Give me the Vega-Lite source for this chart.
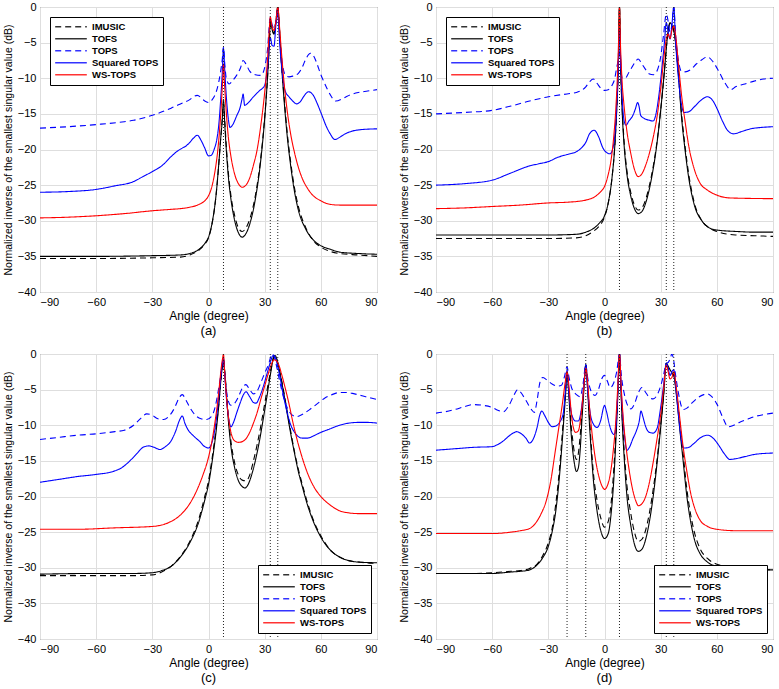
{
"$schema": "https://vega.github.io/schema/vega-lite/v6.json",
"padding": {"left": 2, "top": 0, "right": 2, "bottom": 0},
"config": {
 "font": "Liberation Sans",
 "view": {"stroke": "#555", "strokeWidth": 1},
 "axis": {"labelFont": "Liberation Sans", "labelFontSize": 11, "labelColor": "#000", "titleFont": "Liberation Sans", "titleFontSize": 12, "titleFontWeight": "normal", "titleColor": "#000", "gridColor": "#dedede", "gridOpacity": 1, "domain": false, "ticks": false, "labelPadding": 4},
 "axisY": {"titleFontSize": 10.5, "titlePadding": 4},
 "axisX": {"titlePadding": 3},
 "title": {"font": "Liberation Sans", "fontSize": 13, "fontWeight": "normal", "color": "#000"},
 "legend": {"symbolType": "stroke", "symbolSize": 1000, "symbolStrokeWidth": 1.5, "labelFontSize": 9.5, "labelFontWeight": "bold", "labelFont": "Liberation Sans", "strokeColor": "#000", "fillColor": "#fff", "padding": 4, "rowPadding": 0, "clipHeight": 11.5, "symbolOpacity": 0.8, "labelOffset": 4}
},
"datasets": {
 "v3": [{"v": 8}, {"v": 33}, {"v": 37}],
 "v5": [{"v": -20}, {"v": -10}, {"v": 8}, {"v": 33}, {"v": 37}],
 "a": [
{"s":"IMUSIC","x":-90,"y":-35.3},{"s":"IMUSIC","x":-60,"y":-35.3},{"s":"IMUSIC","x":-30,"y":-35.2},{"s":"IMUSIC","x":-15,"y":-35.1},{"s":"IMUSIC","x":-10,"y":-34.8},{"s":"IMUSIC","x":-5,"y":-34.1},{"s":"IMUSIC","x":-2,"y":-33.3},{"s":"IMUSIC","x":0,"y":-32.4},{"s":"IMUSIC","x":2,"y":-30.3},{"s":"IMUSIC","x":4,"y":-26.5},{"s":"IMUSIC","x":5.5,"y":-22},{"s":"IMUSIC","x":6.5,"y":-18.5},{"s":"IMUSIC","x":7.3,"y":-16},{"s":"IMUSIC","x":8,"y":-13.5},{"s":"IMUSIC","x":8.7,"y":-16},{"s":"IMUSIC","x":9.5,"y":-19.5},{"s":"IMUSIC","x":10.5,"y":-23},{"s":"IMUSIC","x":12,"y":-26.5},{"s":"IMUSIC","x":14,"y":-29.3},{"s":"IMUSIC","x":16,"y":-31},{"s":"IMUSIC","x":18,"y":-31.5},{"s":"IMUSIC","x":20,"y":-31},{"s":"IMUSIC","x":22,"y":-29.8},{"s":"IMUSIC","x":25,"y":-26.5},{"s":"IMUSIC","x":28,"y":-21},{"s":"IMUSIC","x":30,"y":-15.5},{"s":"IMUSIC","x":31.5,"y":-10},{"s":"IMUSIC","x":32.5,"y":-5},{"s":"IMUSIC","x":33,"y":-2.5},{"s":"IMUSIC","x":34,"y":-3.2},{"s":"IMUSIC","x":35,"y":-3.7},{"s":"IMUSIC","x":36,"y":-2},{"s":"IMUSIC","x":37,"y":0},{"s":"IMUSIC","x":38,"y":-3.5},{"s":"IMUSIC","x":39,"y":-8},{"s":"IMUSIC","x":40.5,"y":-13},{"s":"IMUSIC","x":42,"y":-17.5},{"s":"IMUSIC","x":44,"y":-22},{"s":"IMUSIC","x":46,"y":-25.5},{"s":"IMUSIC","x":48,"y":-28},{"s":"IMUSIC","x":52,"y":-31},{"s":"IMUSIC","x":56,"y":-32.8},{"s":"IMUSIC","x":60,"y":-33.7},{"s":"IMUSIC","x":65,"y":-34.3},{"s":"IMUSIC","x":70,"y":-34.6},{"s":"IMUSIC","x":80,"y":-34.8},{"s":"IMUSIC","x":90,"y":-35},
{"s":"TOFS","x":-90,"y":-35},{"s":"TOFS","x":-60,"y":-35},{"s":"TOFS","x":-30,"y":-34.9},{"s":"TOFS","x":-15,"y":-34.8},{"s":"TOFS","x":-10,"y":-34.6},{"s":"TOFS","x":-5,"y":-34},{"s":"TOFS","x":-2,"y":-33.2},{"s":"TOFS","x":0,"y":-32.3},{"s":"TOFS","x":2,"y":-30.2},{"s":"TOFS","x":4,"y":-26.5},{"s":"TOFS","x":5.5,"y":-22},{"s":"TOFS","x":6.5,"y":-18.5},{"s":"TOFS","x":7.3,"y":-16},{"s":"TOFS","x":8,"y":-13},{"s":"TOFS","x":8.7,"y":-16.5},{"s":"TOFS","x":9.5,"y":-20},{"s":"TOFS","x":10.5,"y":-23.5},{"s":"TOFS","x":12,"y":-27},{"s":"TOFS","x":14,"y":-30},{"s":"TOFS","x":16,"y":-31.7},{"s":"TOFS","x":18,"y":-32.3},{"s":"TOFS","x":20,"y":-31.8},{"s":"TOFS","x":22,"y":-30.5},{"s":"TOFS","x":25,"y":-27},{"s":"TOFS","x":28,"y":-21.3},{"s":"TOFS","x":30,"y":-15.7},{"s":"TOFS","x":31.5,"y":-10},{"s":"TOFS","x":32.5,"y":-5},{"s":"TOFS","x":33,"y":-1.8},{"s":"TOFS","x":34,"y":-3.2},{"s":"TOFS","x":35,"y":-3.8},{"s":"TOFS","x":36,"y":-2},{"s":"TOFS","x":37,"y":0},{"s":"TOFS","x":38,"y":-3.5},{"s":"TOFS","x":39,"y":-8},{"s":"TOFS","x":40.5,"y":-13.5},{"s":"TOFS","x":42,"y":-18},{"s":"TOFS","x":44,"y":-22.5},{"s":"TOFS","x":46,"y":-26},{"s":"TOFS","x":48,"y":-28.5},{"s":"TOFS","x":52,"y":-31.2},{"s":"TOFS","x":56,"y":-32.7},{"s":"TOFS","x":60,"y":-33.5},{"s":"TOFS","x":65,"y":-34},{"s":"TOFS","x":70,"y":-34.4},{"s":"TOFS","x":80,"y":-34.6},{"s":"TOFS","x":90,"y":-34.7},
{"s":"TOPS","x":-90,"y":-17},{"s":"TOPS","x":-75,"y":-16.8},{"s":"TOPS","x":-60,"y":-16.5},{"s":"TOPS","x":-45,"y":-16.1},{"s":"TOPS","x":-40,"y":-15.9},{"s":"TOPS","x":-30,"y":-15.2},{"s":"TOPS","x":-20,"y":-14.2},{"s":"TOPS","x":-15,"y":-13.6},{"s":"TOPS","x":-10,"y":-13},{"s":"TOPS","x":-8,"y":-12.6},{"s":"TOPS","x":-6,"y":-12.4},{"s":"TOPS","x":-4,"y":-12.7},{"s":"TOPS","x":-2,"y":-13.2},{"s":"TOPS","x":0,"y":-13.4},{"s":"TOPS","x":2,"y":-13},{"s":"TOPS","x":4,"y":-12},{"s":"TOPS","x":5.5,"y":-10.5},{"s":"TOPS","x":6.5,"y":-9},{"s":"TOPS","x":7.3,"y":-7.5},{"s":"TOPS","x":8,"y":-5.6},{"s":"TOPS","x":8.7,"y":-8},{"s":"TOPS","x":9.5,"y":-10},{"s":"TOPS","x":11,"y":-10.8},{"s":"TOPS","x":13,"y":-10.3},{"s":"TOPS","x":15,"y":-9.6},{"s":"TOPS","x":17,"y":-8.6},{"s":"TOPS","x":18.5,"y":-7.5},{"s":"TOPS","x":20,"y":-8},{"s":"TOPS","x":22,"y":-9},{"s":"TOPS","x":25,"y":-9.5},{"s":"TOPS","x":28,"y":-9.6},{"s":"TOPS","x":30,"y":-8.5},{"s":"TOPS","x":31.5,"y":-6},{"s":"TOPS","x":33,"y":-1.5},{"s":"TOPS","x":34,"y":-2.5},{"s":"TOPS","x":35,"y":-3},{"s":"TOPS","x":36,"y":-2},{"s":"TOPS","x":37,"y":0},{"s":"TOPS","x":38,"y":-4},{"s":"TOPS","x":39,"y":-7},{"s":"TOPS","x":41,"y":-9.5},{"s":"TOPS","x":43,"y":-9.8},{"s":"TOPS","x":45,"y":-9.7},{"s":"TOPS","x":48,"y":-9.3},{"s":"TOPS","x":50,"y":-8.5},{"s":"TOPS","x":52,"y":-7.3},{"s":"TOPS","x":54.5,"y":-6.5},{"s":"TOPS","x":56,"y":-6.8},{"s":"TOPS","x":58,"y":-8},{"s":"TOPS","x":60,"y":-9.5},{"s":"TOPS","x":62,"y":-10.7},{"s":"TOPS","x":65,"y":-12.3},{"s":"TOPS","x":68,"y":-13.2},{"s":"TOPS","x":72,"y":-12.8},{"s":"TOPS","x":76,"y":-12.3},{"s":"TOPS","x":80,"y":-12},{"s":"TOPS","x":85,"y":-11.8},{"s":"TOPS","x":90,"y":-11.6},
{"s":"Squared TOPS","x":-90,"y":-26},{"s":"Squared TOPS","x":-75,"y":-25.9},{"s":"Squared TOPS","x":-60,"y":-25.6},{"s":"Squared TOPS","x":-50,"y":-25.1},{"s":"Squared TOPS","x":-40,"y":-24.5},{"s":"Squared TOPS","x":-35,"y":-23.8},{"s":"Squared TOPS","x":-30,"y":-23.1},{"s":"Squared TOPS","x":-25,"y":-22.3},{"s":"Squared TOPS","x":-20,"y":-21},{"s":"Squared TOPS","x":-17,"y":-20.3},{"s":"Squared TOPS","x":-14,"y":-19.8},{"s":"Squared TOPS","x":-12,"y":-19.5},{"s":"Squared TOPS","x":-10,"y":-19},{"s":"Squared TOPS","x":-8,"y":-18.4},{"s":"Squared TOPS","x":-6,"y":-18},{"s":"Squared TOPS","x":-4,"y":-18.7},{"s":"Squared TOPS","x":-2,"y":-19.8},{"s":"Squared TOPS","x":0,"y":-20.9},{"s":"Squared TOPS","x":1.5,"y":-20.8},{"s":"Squared TOPS","x":3,"y":-20},{"s":"Squared TOPS","x":4.5,"y":-18.5},{"s":"Squared TOPS","x":5.5,"y":-16.5},{"s":"Squared TOPS","x":6.5,"y":-13},{"s":"Squared TOPS","x":7.3,"y":-9.5},{"s":"Squared TOPS","x":8,"y":-5.8},{"s":"Squared TOPS","x":8.7,"y":-9},{"s":"Squared TOPS","x":9.5,"y":-12.5},{"s":"Squared TOPS","x":10.5,"y":-15.5},{"s":"Squared TOPS","x":11.5,"y":-16.9},{"s":"Squared TOPS","x":13,"y":-16.5},{"s":"Squared TOPS","x":15,"y":-15.3},{"s":"Squared TOPS","x":17,"y":-14},{"s":"Squared TOPS","x":18,"y":-12.8},{"s":"Squared TOPS","x":18.5,"y":-12.2},{"s":"Squared TOPS","x":19.3,"y":-13.8},{"s":"Squared TOPS","x":21,"y":-13.5},{"s":"Squared TOPS","x":24,"y":-12.6},{"s":"Squared TOPS","x":27,"y":-11.8},{"s":"Squared TOPS","x":30,"y":-11},{"s":"Squared TOPS","x":31.5,"y":-8.5},{"s":"Squared TOPS","x":33,"y":-4.3},{"s":"Squared TOPS","x":34,"y":-5.4},{"s":"Squared TOPS","x":35,"y":-5.5},{"s":"Squared TOPS","x":36,"y":-2.5},{"s":"Squared TOPS","x":37,"y":-1},{"s":"Squared TOPS","x":38,"y":-5},{"s":"Squared TOPS","x":39.5,"y":-9.5},{"s":"Squared TOPS","x":41,"y":-11.8},{"s":"Squared TOPS","x":43,"y":-12.6},{"s":"Squared TOPS","x":45,"y":-13.2},{"s":"Squared TOPS","x":47,"y":-13.6},{"s":"Squared TOPS","x":49,"y":-13.3},{"s":"Squared TOPS","x":51,"y":-12.5},{"s":"Squared TOPS","x":53.5,"y":-11.9},{"s":"Squared TOPS","x":56,"y":-12.4},{"s":"Squared TOPS","x":58,"y":-13.5},{"s":"Squared TOPS","x":60,"y":-14.8},{"s":"Squared TOPS","x":63,"y":-16.8},{"s":"Squared TOPS","x":65,"y":-17.8},{"s":"Squared TOPS","x":67.5,"y":-18.6},{"s":"Squared TOPS","x":70,"y":-18.3},{"s":"Squared TOPS","x":73,"y":-17.8},{"s":"Squared TOPS","x":77,"y":-17.4},{"s":"Squared TOPS","x":82,"y":-17.2},{"s":"Squared TOPS","x":90,"y":-17.1},
{"s":"WS-TOPS","x":-90,"y":-29.6},{"s":"WS-TOPS","x":-75,"y":-29.5},{"s":"WS-TOPS","x":-60,"y":-29.3},{"s":"WS-TOPS","x":-45,"y":-29},{"s":"WS-TOPS","x":-30,"y":-28.6},{"s":"WS-TOPS","x":-20,"y":-28.4},{"s":"WS-TOPS","x":-15,"y":-28.3},{"s":"WS-TOPS","x":-10,"y":-28.1},{"s":"WS-TOPS","x":-5,"y":-27.7},{"s":"WS-TOPS","x":-2,"y":-27.2},{"s":"WS-TOPS","x":0,"y":-26.5},{"s":"WS-TOPS","x":2,"y":-25},{"s":"WS-TOPS","x":3.5,"y":-23},{"s":"WS-TOPS","x":5,"y":-20},{"s":"WS-TOPS","x":6,"y":-17},{"s":"WS-TOPS","x":7,"y":-13},{"s":"WS-TOPS","x":7.6,"y":-10},{"s":"WS-TOPS","x":8,"y":-8},{"s":"WS-TOPS","x":8.5,"y":-10.5},{"s":"WS-TOPS","x":9.3,"y":-14},{"s":"WS-TOPS","x":10.5,"y":-18},{"s":"WS-TOPS","x":12,"y":-21},{"s":"WS-TOPS","x":14,"y":-23.5},{"s":"WS-TOPS","x":16,"y":-24.8},{"s":"WS-TOPS","x":18,"y":-25.3},{"s":"WS-TOPS","x":20,"y":-25},{"s":"WS-TOPS","x":22,"y":-24},{"s":"WS-TOPS","x":24,"y":-22.2},{"s":"WS-TOPS","x":26,"y":-20},{"s":"WS-TOPS","x":28,"y":-16.5},{"s":"WS-TOPS","x":30,"y":-12},{"s":"WS-TOPS","x":31.5,"y":-7.5},{"s":"WS-TOPS","x":32.5,"y":-3},{"s":"WS-TOPS","x":33,"y":-1.4},{"s":"WS-TOPS","x":34,"y":-2.8},{"s":"WS-TOPS","x":35,"y":-3.3},{"s":"WS-TOPS","x":36,"y":-2},{"s":"WS-TOPS","x":37,"y":0},{"s":"WS-TOPS","x":38,"y":-3},{"s":"WS-TOPS","x":39,"y":-6.5},{"s":"WS-TOPS","x":40.5,"y":-11},{"s":"WS-TOPS","x":42,"y":-14.5},{"s":"WS-TOPS","x":44,"y":-18},{"s":"WS-TOPS","x":46,"y":-20.5},{"s":"WS-TOPS","x":48,"y":-22.5},{"s":"WS-TOPS","x":50,"y":-24},{"s":"WS-TOPS","x":53,"y":-25.5},{"s":"WS-TOPS","x":56,"y":-26.5},{"s":"WS-TOPS","x":60,"y":-27.2},{"s":"WS-TOPS","x":65,"y":-27.7},{"s":"WS-TOPS","x":70,"y":-27.8},{"s":"WS-TOPS","x":90,"y":-27.8}
 ],
 "b": [
{"s":"IMUSIC","x":-90,"y":-32.5},{"s":"IMUSIC","x":-60,"y":-32.5},{"s":"IMUSIC","x":-30,"y":-32.5},{"s":"IMUSIC","x":-15,"y":-32.4},{"s":"IMUSIC","x":-10,"y":-32.1},{"s":"IMUSIC","x":-6,"y":-31.5},{"s":"IMUSIC","x":-3,"y":-30.8},{"s":"IMUSIC","x":0,"y":-29.5},{"s":"IMUSIC","x":2,"y":-27.5},{"s":"IMUSIC","x":4,"y":-24},{"s":"IMUSIC","x":5.5,"y":-19.5},{"s":"IMUSIC","x":6.5,"y":-14.5},{"s":"IMUSIC","x":7.3,"y":-9},{"s":"IMUSIC","x":8,"y":0},{"s":"IMUSIC","x":8.7,"y":-9},{"s":"IMUSIC","x":9.5,"y":-14.5},{"s":"IMUSIC","x":10.5,"y":-19},{"s":"IMUSIC","x":12,"y":-23},{"s":"IMUSIC","x":14,"y":-26},{"s":"IMUSIC","x":16,"y":-27.8},{"s":"IMUSIC","x":18,"y":-28.5},{"s":"IMUSIC","x":20,"y":-28.2},{"s":"IMUSIC","x":22,"y":-27},{"s":"IMUSIC","x":25,"y":-23.8},{"s":"IMUSIC","x":28,"y":-19},{"s":"IMUSIC","x":30,"y":-14.5},{"s":"IMUSIC","x":32,"y":-9},{"s":"IMUSIC","x":33.5,"y":-4.5},{"s":"IMUSIC","x":35,"y":-2.3},{"s":"IMUSIC","x":36,"y":-2.6},{"s":"IMUSIC","x":37,"y":-3.3},{"s":"IMUSIC","x":38,"y":-5},{"s":"IMUSIC","x":39.5,"y":-9.5},{"s":"IMUSIC","x":41,"y":-14.5},{"s":"IMUSIC","x":43,"y":-19.5},{"s":"IMUSIC","x":45,"y":-23.5},{"s":"IMUSIC","x":48,"y":-27.5},{"s":"IMUSIC","x":52,"y":-30},{"s":"IMUSIC","x":56,"y":-31},{"s":"IMUSIC","x":60,"y":-31.5},{"s":"IMUSIC","x":70,"y":-32},{"s":"IMUSIC","x":80,"y":-32.1},{"s":"IMUSIC","x":90,"y":-32.2},
{"s":"TOFS","x":-90,"y":-32},{"s":"TOFS","x":-60,"y":-32},{"s":"TOFS","x":-30,"y":-32},{"s":"TOFS","x":-15,"y":-31.9},{"s":"TOFS","x":-10,"y":-31.6},{"s":"TOFS","x":-6,"y":-31.1},{"s":"TOFS","x":-3,"y":-30.4},{"s":"TOFS","x":0,"y":-29.3},{"s":"TOFS","x":2,"y":-27.5},{"s":"TOFS","x":4,"y":-24},{"s":"TOFS","x":5.5,"y":-19.5},{"s":"TOFS","x":6.5,"y":-14.5},{"s":"TOFS","x":7.3,"y":-9},{"s":"TOFS","x":8,"y":0},{"s":"TOFS","x":8.7,"y":-9},{"s":"TOFS","x":9.5,"y":-15},{"s":"TOFS","x":10.5,"y":-19.5},{"s":"TOFS","x":12,"y":-23.5},{"s":"TOFS","x":14,"y":-26.5},{"s":"TOFS","x":16,"y":-28.3},{"s":"TOFS","x":18,"y":-29},{"s":"TOFS","x":20,"y":-28.7},{"s":"TOFS","x":22,"y":-27.5},{"s":"TOFS","x":25,"y":-24.2},{"s":"TOFS","x":28,"y":-19.2},{"s":"TOFS","x":30,"y":-14.5},{"s":"TOFS","x":32,"y":-9},{"s":"TOFS","x":33.5,"y":-4.5},{"s":"TOFS","x":35,"y":-2.2},{"s":"TOFS","x":36,"y":-2.6},{"s":"TOFS","x":37,"y":-3.3},{"s":"TOFS","x":38,"y":-5},{"s":"TOFS","x":39.5,"y":-9.5},{"s":"TOFS","x":41,"y":-15},{"s":"TOFS","x":43,"y":-20},{"s":"TOFS","x":45,"y":-24},{"s":"TOFS","x":48,"y":-27.8},{"s":"TOFS","x":52,"y":-30},{"s":"TOFS","x":56,"y":-31},{"s":"TOFS","x":60,"y":-31.3},{"s":"TOFS","x":70,"y":-31.5},{"s":"TOFS","x":80,"y":-31.6},{"s":"TOFS","x":90,"y":-31.6},
{"s":"TOPS","x":-90,"y":-15},{"s":"TOPS","x":-75,"y":-14.8},{"s":"TOPS","x":-60,"y":-14.5},{"s":"TOPS","x":-50,"y":-13.9},{"s":"TOPS","x":-40,"y":-13.2},{"s":"TOPS","x":-30,"y":-12.6},{"s":"TOPS","x":-20,"y":-12.2},{"s":"TOPS","x":-15,"y":-12},{"s":"TOPS","x":-10,"y":-11.2},{"s":"TOPS","x":-8,"y":-10.5},{"s":"TOPS","x":-6,"y":-10.1},{"s":"TOPS","x":-4,"y":-10.7},{"s":"TOPS","x":-2,"y":-11.4},{"s":"TOPS","x":0,"y":-11.7},{"s":"TOPS","x":2,"y":-11.6},{"s":"TOPS","x":4,"y":-11},{"s":"TOPS","x":5.5,"y":-10},{"s":"TOPS","x":6.5,"y":-8.5},{"s":"TOPS","x":7.3,"y":-7.5},{"s":"TOPS","x":8,"y":-6},{"s":"TOPS","x":8.7,"y":-8.5},{"s":"TOPS","x":9.5,"y":-10},{"s":"TOPS","x":11,"y":-10},{"s":"TOPS","x":13,"y":-9.2},{"s":"TOPS","x":15,"y":-8.3},{"s":"TOPS","x":17,"y":-7.5},{"s":"TOPS","x":18,"y":-7.3},{"s":"TOPS","x":20,"y":-8},{"s":"TOPS","x":22,"y":-8.8},{"s":"TOPS","x":24,"y":-9.4},{"s":"TOPS","x":26,"y":-9.5},{"s":"TOPS","x":28,"y":-9},{"s":"TOPS","x":30,"y":-7},{"s":"TOPS","x":31.5,"y":-4},{"s":"TOPS","x":33,"y":-1},{"s":"TOPS","x":34,"y":-2},{"s":"TOPS","x":35,"y":-3.5},{"s":"TOPS","x":36,"y":-2.5},{"s":"TOPS","x":37,"y":0},{"s":"TOPS","x":38,"y":-4},{"s":"TOPS","x":39.5,"y":-7.5},{"s":"TOPS","x":41,"y":-9},{"s":"TOPS","x":43,"y":-9.1},{"s":"TOPS","x":46,"y":-8.8},{"s":"TOPS","x":49,"y":-8},{"s":"TOPS","x":52,"y":-7.4},{"s":"TOPS","x":55,"y":-7},{"s":"TOPS","x":58,"y":-7.7},{"s":"TOPS","x":61,"y":-9},{"s":"TOPS","x":64,"y":-10.5},{"s":"TOPS","x":67.5,"y":-11.6},{"s":"TOPS","x":70,"y":-11.2},{"s":"TOPS","x":75,"y":-10.8},{"s":"TOPS","x":80,"y":-10.4},{"s":"TOPS","x":85,"y":-10.1},{"s":"TOPS","x":90,"y":-10},
{"s":"Squared TOPS","x":-90,"y":-25},{"s":"Squared TOPS","x":-75,"y":-24.8},{"s":"Squared TOPS","x":-60,"y":-24.3},{"s":"Squared TOPS","x":-50,"y":-23.3},{"s":"Squared TOPS","x":-40,"y":-22.3},{"s":"Squared TOPS","x":-35,"y":-22},{"s":"Squared TOPS","x":-30,"y":-21.7},{"s":"Squared TOPS","x":-25,"y":-21.1},{"s":"Squared TOPS","x":-20,"y":-20.7},{"s":"Squared TOPS","x":-15,"y":-20.3},{"s":"Squared TOPS","x":-12,"y":-19.7},{"s":"Squared TOPS","x":-10,"y":-19},{"s":"Squared TOPS","x":-8,"y":-17.8},{"s":"Squared TOPS","x":-5.5,"y":-17.3},{"s":"Squared TOPS","x":-3,"y":-18.3},{"s":"Squared TOPS","x":-1,"y":-19.7},{"s":"Squared TOPS","x":1,"y":-20.4},{"s":"Squared TOPS","x":3,"y":-20.6},{"s":"Squared TOPS","x":4.5,"y":-19.8},{"s":"Squared TOPS","x":5.5,"y":-18},{"s":"Squared TOPS","x":6.5,"y":-14},{"s":"Squared TOPS","x":7.3,"y":-9},{"s":"Squared TOPS","x":8,"y":-3},{"s":"Squared TOPS","x":8.7,"y":-8},{"s":"Squared TOPS","x":9.5,"y":-13},{"s":"Squared TOPS","x":10.5,"y":-16},{"s":"Squared TOPS","x":11.5,"y":-16.6},{"s":"Squared TOPS","x":13,"y":-16},{"s":"Squared TOPS","x":15,"y":-15.3},{"s":"Squared TOPS","x":16.5,"y":-14.3},{"s":"Squared TOPS","x":17.7,"y":-13.4},{"s":"Squared TOPS","x":18.5,"y":-14},{"s":"Squared TOPS","x":19.3,"y":-15.2},{"s":"Squared TOPS","x":21,"y":-15.6},{"s":"Squared TOPS","x":24,"y":-15.9},{"s":"Squared TOPS","x":26,"y":-16},{"s":"Squared TOPS","x":27.5,"y":-15},{"s":"Squared TOPS","x":29,"y":-12.5},{"s":"Squared TOPS","x":30.5,"y":-9},{"s":"Squared TOPS","x":32,"y":-5},{"s":"Squared TOPS","x":33,"y":-2.2},{"s":"Squared TOPS","x":34,"y":-3.5},{"s":"Squared TOPS","x":35,"y":-4.5},{"s":"Squared TOPS","x":36,"y":-2.5},{"s":"Squared TOPS","x":37,"y":0},{"s":"Squared TOPS","x":38,"y":-5},{"s":"Squared TOPS","x":39.5,"y":-10},{"s":"Squared TOPS","x":41,"y":-13.5},{"s":"Squared TOPS","x":42.5,"y":-14.8},{"s":"Squared TOPS","x":45,"y":-14.7},{"s":"Squared TOPS","x":48,"y":-14},{"s":"Squared TOPS","x":51,"y":-13.2},{"s":"Squared TOPS","x":55,"y":-12.6},{"s":"Squared TOPS","x":58,"y":-13.2},{"s":"Squared TOPS","x":60,"y":-14.2},{"s":"Squared TOPS","x":63,"y":-16},{"s":"Squared TOPS","x":66,"y":-17.4},{"s":"Squared TOPS","x":69,"y":-17.8},{"s":"Squared TOPS","x":73,"y":-17.5},{"s":"Squared TOPS","x":78,"y":-17.1},{"s":"Squared TOPS","x":84,"y":-16.9},{"s":"Squared TOPS","x":90,"y":-16.8},
{"s":"WS-TOPS","x":-90,"y":-28.3},{"s":"WS-TOPS","x":-75,"y":-28.2},{"s":"WS-TOPS","x":-60,"y":-28},{"s":"WS-TOPS","x":-45,"y":-27.8},{"s":"WS-TOPS","x":-30,"y":-27.5},{"s":"WS-TOPS","x":-20,"y":-27.4},{"s":"WS-TOPS","x":-15,"y":-27.3},{"s":"WS-TOPS","x":-10,"y":-27.1},{"s":"WS-TOPS","x":-5,"y":-26.6},{"s":"WS-TOPS","x":-2,"y":-25.9},{"s":"WS-TOPS","x":0,"y":-25.2},{"s":"WS-TOPS","x":2,"y":-23.5},{"s":"WS-TOPS","x":3.5,"y":-21.5},{"s":"WS-TOPS","x":5,"y":-18},{"s":"WS-TOPS","x":6,"y":-14.5},{"s":"WS-TOPS","x":7,"y":-9},{"s":"WS-TOPS","x":7.6,"y":-4},{"s":"WS-TOPS","x":8,"y":0},{"s":"WS-TOPS","x":8.5,"y":-5},{"s":"WS-TOPS","x":9.3,"y":-10},{"s":"WS-TOPS","x":10.5,"y":-14},{"s":"WS-TOPS","x":12,"y":-17.5},{"s":"WS-TOPS","x":14,"y":-20.5},{"s":"WS-TOPS","x":16,"y":-22.8},{"s":"WS-TOPS","x":18,"y":-23.8},{"s":"WS-TOPS","x":20,"y":-23.4},{"s":"WS-TOPS","x":22,"y":-22.2},{"s":"WS-TOPS","x":24,"y":-20.5},{"s":"WS-TOPS","x":26,"y":-18.3},{"s":"WS-TOPS","x":28,"y":-15.5},{"s":"WS-TOPS","x":30,"y":-11.5},{"s":"WS-TOPS","x":32,"y":-6.5},{"s":"WS-TOPS","x":33,"y":-4.5},{"s":"WS-TOPS","x":34,"y":-3.8},{"s":"WS-TOPS","x":35,"y":-4.4},{"s":"WS-TOPS","x":36,"y":-3.3},{"s":"WS-TOPS","x":37,"y":-2.7},{"s":"WS-TOPS","x":38,"y":-4},{"s":"WS-TOPS","x":39.5,"y":-8},{"s":"WS-TOPS","x":41,"y":-12},{"s":"WS-TOPS","x":43,"y":-16},{"s":"WS-TOPS","x":45,"y":-19.5},{"s":"WS-TOPS","x":48,"y":-22.8},{"s":"WS-TOPS","x":51,"y":-24.7},{"s":"WS-TOPS","x":55,"y":-25.7},{"s":"WS-TOPS","x":60,"y":-26.4},{"s":"WS-TOPS","x":67,"y":-26.8},{"s":"WS-TOPS","x":90,"y":-26.9}
 ],
 "c": [
{"s":"IMUSIC","x":-90,"y":-31.1},{"s":"IMUSIC","x":-60,"y":-31.1},{"s":"IMUSIC","x":-40,"y":-31.1},{"s":"IMUSIC","x":-30,"y":-31},{"s":"IMUSIC","x":-25,"y":-30.6},{"s":"IMUSIC","x":-20,"y":-29.8},{"s":"IMUSIC","x":-15,"y":-28.4},{"s":"IMUSIC","x":-10,"y":-26.3},{"s":"IMUSIC","x":-5,"y":-23},{"s":"IMUSIC","x":-2,"y":-20},{"s":"IMUSIC","x":0,"y":-17.8},{"s":"IMUSIC","x":2,"y":-14.5},{"s":"IMUSIC","x":4,"y":-10.5},{"s":"IMUSIC","x":5.5,"y":-7},{"s":"IMUSIC","x":6.5,"y":-4},{"s":"IMUSIC","x":7.3,"y":-2},{"s":"IMUSIC","x":8,"y":-0.8},{"s":"IMUSIC","x":8.7,"y":-2.5},{"s":"IMUSIC","x":9.5,"y":-5},{"s":"IMUSIC","x":10.5,"y":-8.5},{"s":"IMUSIC","x":12,"y":-12.3},{"s":"IMUSIC","x":14,"y":-15.3},{"s":"IMUSIC","x":16,"y":-17},{"s":"IMUSIC","x":18,"y":-17.7},{"s":"IMUSIC","x":20,"y":-17.8},{"s":"IMUSIC","x":22,"y":-17},{"s":"IMUSIC","x":24,"y":-15},{"s":"IMUSIC","x":26,"y":-12.7},{"s":"IMUSIC","x":28,"y":-10},{"s":"IMUSIC","x":30,"y":-7},{"s":"IMUSIC","x":32,"y":-4},{"s":"IMUSIC","x":33.5,"y":-2},{"s":"IMUSIC","x":35,"y":-0.3},{"s":"IMUSIC","x":36,"y":-0.5},{"s":"IMUSIC","x":37,"y":-1.3},{"s":"IMUSIC","x":38.5,"y":-3},{"s":"IMUSIC","x":40,"y":-5},{"s":"IMUSIC","x":42,"y":-8},{"s":"IMUSIC","x":44,"y":-11},{"s":"IMUSIC","x":46,"y":-13.8},{"s":"IMUSIC","x":48,"y":-16.2},{"s":"IMUSIC","x":50,"y":-18.2},{"s":"IMUSIC","x":53,"y":-21},{"s":"IMUSIC","x":56,"y":-23.3},{"s":"IMUSIC","x":60,"y":-25.5},{"s":"IMUSIC","x":65,"y":-27.5},{"s":"IMUSIC","x":70,"y":-28.5},{"s":"IMUSIC","x":75,"y":-29},{"s":"IMUSIC","x":80,"y":-29.2},{"s":"IMUSIC","x":90,"y":-29.4},
{"s":"TOFS","x":-90,"y":-30.9},{"s":"TOFS","x":-60,"y":-30.8},{"s":"TOFS","x":-40,"y":-30.8},{"s":"TOFS","x":-30,"y":-30.7},{"s":"TOFS","x":-25,"y":-30.4},{"s":"TOFS","x":-20,"y":-29.8},{"s":"TOFS","x":-15,"y":-28.5},{"s":"TOFS","x":-10,"y":-26.5},{"s":"TOFS","x":-5,"y":-23.4},{"s":"TOFS","x":-2,"y":-20.5},{"s":"TOFS","x":0,"y":-18.3},{"s":"TOFS","x":2,"y":-15},{"s":"TOFS","x":4,"y":-11},{"s":"TOFS","x":5.5,"y":-7.2},{"s":"TOFS","x":6.5,"y":-4},{"s":"TOFS","x":7.3,"y":-2},{"s":"TOFS","x":8,"y":-0.8},{"s":"TOFS","x":8.7,"y":-2.7},{"s":"TOFS","x":9.5,"y":-5.5},{"s":"TOFS","x":10.5,"y":-9},{"s":"TOFS","x":12,"y":-13},{"s":"TOFS","x":14,"y":-16},{"s":"TOFS","x":16,"y":-17.8},{"s":"TOFS","x":18,"y":-18.6},{"s":"TOFS","x":19.5,"y":-18.8},{"s":"TOFS","x":21,"y":-18.4},{"s":"TOFS","x":23,"y":-17},{"s":"TOFS","x":25,"y":-15},{"s":"TOFS","x":27,"y":-12.5},{"s":"TOFS","x":29,"y":-9.5},{"s":"TOFS","x":31,"y":-6.3},{"s":"TOFS","x":33,"y":-3},{"s":"TOFS","x":34.5,"y":-0.8},{"s":"TOFS","x":35.5,"y":-0.2},{"s":"TOFS","x":36.5,"y":-0.7},{"s":"TOFS","x":38,"y":-2.5},{"s":"TOFS","x":40,"y":-5.2},{"s":"TOFS","x":42,"y":-8.3},{"s":"TOFS","x":44,"y":-11.3},{"s":"TOFS","x":46,"y":-14},{"s":"TOFS","x":48,"y":-16.5},{"s":"TOFS","x":50,"y":-18.5},{"s":"TOFS","x":53,"y":-21.3},{"s":"TOFS","x":56,"y":-23.5},{"s":"TOFS","x":60,"y":-25.7},{"s":"TOFS","x":65,"y":-27.5},{"s":"TOFS","x":70,"y":-28.5},{"s":"TOFS","x":75,"y":-29},{"s":"TOFS","x":80,"y":-29.2},{"s":"TOFS","x":90,"y":-29.3},
{"s":"TOPS","x":-90,"y":-12},{"s":"TOPS","x":-80,"y":-11.7},{"s":"TOPS","x":-70,"y":-11.4},{"s":"TOPS","x":-60,"y":-11.2},{"s":"TOPS","x":-50,"y":-10.9},{"s":"TOPS","x":-45,"y":-10.7},{"s":"TOPS","x":-40,"y":-10},{"s":"TOPS","x":-36,"y":-9},{"s":"TOPS","x":-33,"y":-8.4},{"s":"TOPS","x":-30,"y":-8.6},{"s":"TOPS","x":-27,"y":-9.1},{"s":"TOPS","x":-24,"y":-9.2},{"s":"TOPS","x":-21,"y":-8.7},{"s":"TOPS","x":-18,"y":-7.5},{"s":"TOPS","x":-16,"y":-6.3},{"s":"TOPS","x":-14,"y":-5.7},{"s":"TOPS","x":-12,"y":-6.5},{"s":"TOPS","x":-10,"y":-7.5},{"s":"TOPS","x":-7,"y":-8.6},{"s":"TOPS","x":-4,"y":-9.1},{"s":"TOPS","x":-1,"y":-9.2},{"s":"TOPS","x":1.5,"y":-8.8},{"s":"TOPS","x":3.5,"y":-7.5},{"s":"TOPS","x":5,"y":-5.5},{"s":"TOPS","x":6.5,"y":-3},{"s":"TOPS","x":7.3,"y":-1.5},{"s":"TOPS","x":8,"y":-0.5},{"s":"TOPS","x":8.7,"y":-3},{"s":"TOPS","x":9.5,"y":-5},{"s":"TOPS","x":10.5,"y":-6.5},{"s":"TOPS","x":12,"y":-7.2},{"s":"TOPS","x":14,"y":-6.9},{"s":"TOPS","x":16,"y":-6},{"s":"TOPS","x":18,"y":-4.8},{"s":"TOPS","x":20,"y":-4.3},{"s":"TOPS","x":22,"y":-5},{"s":"TOPS","x":24,"y":-5.6},{"s":"TOPS","x":26,"y":-5.2},{"s":"TOPS","x":28,"y":-4},{"s":"TOPS","x":30,"y":-2.7},{"s":"TOPS","x":32,"y":-1.5},{"s":"TOPS","x":34,"y":0},{"s":"TOPS","x":35,"y":-0.3},{"s":"TOPS","x":36,"y":-1.3},{"s":"TOPS","x":38,"y":-3.8},{"s":"TOPS","x":40,"y":-6},{"s":"TOPS","x":42,"y":-7.5},{"s":"TOPS","x":44,"y":-8.4},{"s":"TOPS","x":47,"y":-8.8},{"s":"TOPS","x":50,"y":-8.5},{"s":"TOPS","x":54,"y":-7.8},{"s":"TOPS","x":58,"y":-7},{"s":"TOPS","x":62,"y":-6.2},{"s":"TOPS","x":66,"y":-5.7},{"s":"TOPS","x":70,"y":-5.4},{"s":"TOPS","x":74,"y":-5.4},{"s":"TOPS","x":78,"y":-5.6},{"s":"TOPS","x":84,"y":-6},{"s":"TOPS","x":90,"y":-6.4},
{"s":"Squared TOPS","x":-90,"y":-18},{"s":"Squared TOPS","x":-80,"y":-17.6},{"s":"Squared TOPS","x":-70,"y":-17.2},{"s":"Squared TOPS","x":-60,"y":-16.9},{"s":"Squared TOPS","x":-50,"y":-16.4},{"s":"Squared TOPS","x":-46,"y":-15.9},{"s":"Squared TOPS","x":-42,"y":-15},{"s":"Squared TOPS","x":-38,"y":-13.9},{"s":"Squared TOPS","x":-35,"y":-13.1},{"s":"Squared TOPS","x":-32,"y":-12.9},{"s":"Squared TOPS","x":-29,"y":-13.1},{"s":"Squared TOPS","x":-26,"y":-13.4},{"s":"Squared TOPS","x":-23,"y":-13},{"s":"Squared TOPS","x":-20,"y":-12.2},{"s":"Squared TOPS","x":-17.5,"y":-10.8},{"s":"Squared TOPS","x":-15.5,"y":-9.3},{"s":"Squared TOPS","x":-14,"y":-8.7},{"s":"Squared TOPS","x":-12.5,"y":-9.8},{"s":"Squared TOPS","x":-11,"y":-10.6},{"s":"Squared TOPS","x":-8,"y":-11.5},{"s":"Squared TOPS","x":-5,"y":-12.2},{"s":"Squared TOPS","x":-2,"y":-13},{"s":"Squared TOPS","x":0,"y":-13.2},{"s":"Squared TOPS","x":2,"y":-12.3},{"s":"Squared TOPS","x":4,"y":-9.5},{"s":"Squared TOPS","x":5.5,"y":-6},{"s":"Squared TOPS","x":6.5,"y":-3.5},{"s":"Squared TOPS","x":7.3,"y":-1.5},{"s":"Squared TOPS","x":8,"y":-0.6},{"s":"Squared TOPS","x":8.7,"y":-3},{"s":"Squared TOPS","x":9.5,"y":-6},{"s":"Squared TOPS","x":10.5,"y":-8.5},{"s":"Squared TOPS","x":12,"y":-10.2},{"s":"Squared TOPS","x":13.5,"y":-9.5},{"s":"Squared TOPS","x":15,"y":-8.3},{"s":"Squared TOPS","x":17,"y":-6.8},{"s":"Squared TOPS","x":18.5,"y":-5.8},{"s":"Squared TOPS","x":20,"y":-5.3},{"s":"Squared TOPS","x":22,"y":-6},{"s":"Squared TOPS","x":24,"y":-6.8},{"s":"Squared TOPS","x":25.5,"y":-6.9},{"s":"Squared TOPS","x":27,"y":-6.2},{"s":"Squared TOPS","x":29,"y":-4.8},{"s":"Squared TOPS","x":31,"y":-3},{"s":"Squared TOPS","x":33,"y":-1.2},{"s":"Squared TOPS","x":34.5,"y":-0.2},{"s":"Squared TOPS","x":35.5,"y":-0.4},{"s":"Squared TOPS","x":36.5,"y":-1.2},{"s":"Squared TOPS","x":38,"y":-3},{"s":"Squared TOPS","x":40,"y":-5.8},{"s":"Squared TOPS","x":42,"y":-8.2},{"s":"Squared TOPS","x":44,"y":-10},{"s":"Squared TOPS","x":46,"y":-11},{"s":"Squared TOPS","x":48,"y":-11.6},{"s":"Squared TOPS","x":50,"y":-11.8},{"s":"Squared TOPS","x":53,"y":-11.8},{"s":"Squared TOPS","x":56,"y":-11.5},{"s":"Squared TOPS","x":60,"y":-11},{"s":"Squared TOPS","x":65,"y":-10.5},{"s":"Squared TOPS","x":70,"y":-10},{"s":"Squared TOPS","x":75,"y":-9.7},{"s":"Squared TOPS","x":80,"y":-9.6},{"s":"Squared TOPS","x":85,"y":-9.6},{"s":"Squared TOPS","x":90,"y":-9.7},
{"s":"WS-TOPS","x":-90,"y":-24.6},{"s":"WS-TOPS","x":-70,"y":-24.6},{"s":"WS-TOPS","x":-50,"y":-24.4},{"s":"WS-TOPS","x":-30,"y":-24.2},{"s":"WS-TOPS","x":-25,"y":-24},{"s":"WS-TOPS","x":-20,"y":-23.5},{"s":"WS-TOPS","x":-15,"y":-22.6},{"s":"WS-TOPS","x":-10,"y":-21},{"s":"WS-TOPS","x":-6,"y":-19},{"s":"WS-TOPS","x":-3,"y":-17},{"s":"WS-TOPS","x":0,"y":-14.5},{"s":"WS-TOPS","x":2,"y":-12},{"s":"WS-TOPS","x":3.5,"y":-9.5},{"s":"WS-TOPS","x":5,"y":-6.5},{"s":"WS-TOPS","x":6,"y":-4},{"s":"WS-TOPS","x":7,"y":-1.5},{"s":"WS-TOPS","x":7.6,"y":-0.5},{"s":"WS-TOPS","x":8,"y":0},{"s":"WS-TOPS","x":8.5,"y":-2},{"s":"WS-TOPS","x":9.3,"y":-5},{"s":"WS-TOPS","x":10.5,"y":-8.5},{"s":"WS-TOPS","x":12,"y":-11},{"s":"WS-TOPS","x":14,"y":-12.2},{"s":"WS-TOPS","x":16,"y":-12.4},{"s":"WS-TOPS","x":18,"y":-12.3},{"s":"WS-TOPS","x":20,"y":-11.9},{"s":"WS-TOPS","x":22,"y":-11},{"s":"WS-TOPS","x":24,"y":-9.7},{"s":"WS-TOPS","x":26,"y":-8.2},{"s":"WS-TOPS","x":28,"y":-6.3},{"s":"WS-TOPS","x":30,"y":-4.5},{"s":"WS-TOPS","x":32,"y":-2.7},{"s":"WS-TOPS","x":34,"y":-1.2},{"s":"WS-TOPS","x":35,"y":-0.8},{"s":"WS-TOPS","x":36,"y":-0.9},{"s":"WS-TOPS","x":37.5,"y":-1.5},{"s":"WS-TOPS","x":39,"y":-2.8},{"s":"WS-TOPS","x":41,"y":-4.8},{"s":"WS-TOPS","x":43,"y":-7},{"s":"WS-TOPS","x":45,"y":-9.5},{"s":"WS-TOPS","x":47,"y":-11.7},{"s":"WS-TOPS","x":50,"y":-14.5},{"s":"WS-TOPS","x":53,"y":-16.8},{"s":"WS-TOPS","x":56,"y":-18.5},{"s":"WS-TOPS","x":60,"y":-20},{"s":"WS-TOPS","x":65,"y":-21.2},{"s":"WS-TOPS","x":70,"y":-22},{"s":"WS-TOPS","x":75,"y":-22.3},{"s":"WS-TOPS","x":80,"y":-22.4},{"s":"WS-TOPS","x":90,"y":-22.4}
 ],
 "d": [
{"s":"IMUSIC","x":-90,"y":-30.8},{"s":"IMUSIC","x":-70,"y":-30.8},{"s":"IMUSIC","x":-60,"y":-30.7},{"s":"IMUSIC","x":-50,"y":-30.5},{"s":"IMUSIC","x":-45,"y":-30.4},{"s":"IMUSIC","x":-40,"y":-30.1},{"s":"IMUSIC","x":-36,"y":-29.5},{"s":"IMUSIC","x":-33,"y":-28.3},{"s":"IMUSIC","x":-30,"y":-26.5},{"s":"IMUSIC","x":-28,"y":-24.5},{"s":"IMUSIC","x":-26,"y":-21},{"s":"IMUSIC","x":-24,"y":-16},{"s":"IMUSIC","x":-22.5,"y":-11},{"s":"IMUSIC","x":-21,"y":-6},{"s":"IMUSIC","x":-20,"y":-2.7},{"s":"IMUSIC","x":-19,"y":-5.5},{"s":"IMUSIC","x":-18,"y":-9.5},{"s":"IMUSIC","x":-17,"y":-12},{"s":"IMUSIC","x":-16,"y":-14},{"s":"IMUSIC","x":-15,"y":-14.8},{"s":"IMUSIC","x":-14,"y":-14},{"s":"IMUSIC","x":-13,"y":-11.5},{"s":"IMUSIC","x":-12,"y":-8},{"s":"IMUSIC","x":-11,"y":-4.5},{"s":"IMUSIC","x":-10,"y":-1.5},{"s":"IMUSIC","x":-9,"y":-4.5},{"s":"IMUSIC","x":-8,"y":-9},{"s":"IMUSIC","x":-7,"y":-13},{"s":"IMUSIC","x":-6,"y":-16.5},{"s":"IMUSIC","x":-4,"y":-20.5},{"s":"IMUSIC","x":-2,"y":-23},{"s":"IMUSIC","x":0,"y":-24.3},{"s":"IMUSIC","x":2,"y":-23.5},{"s":"IMUSIC","x":3.5,"y":-21},{"s":"IMUSIC","x":5,"y":-16},{"s":"IMUSIC","x":6,"y":-11.5},{"s":"IMUSIC","x":7,"y":-6},{"s":"IMUSIC","x":7.5,"y":-3},{"s":"IMUSIC","x":8,"y":0},{"s":"IMUSIC","x":8.5,"y":-3},{"s":"IMUSIC","x":9.3,"y":-8},{"s":"IMUSIC","x":10.5,"y":-13.5},{"s":"IMUSIC","x":12,"y":-18.5},{"s":"IMUSIC","x":14,"y":-22.3},{"s":"IMUSIC","x":16,"y":-25},{"s":"IMUSIC","x":18,"y":-26.3},{"s":"IMUSIC","x":20,"y":-26},{"s":"IMUSIC","x":22,"y":-24.7},{"s":"IMUSIC","x":24,"y":-22.3},{"s":"IMUSIC","x":26,"y":-19},{"s":"IMUSIC","x":28,"y":-15},{"s":"IMUSIC","x":30,"y":-10},{"s":"IMUSIC","x":31.5,"y":-6},{"s":"IMUSIC","x":33,"y":-1.5},{"s":"IMUSIC","x":34,"y":-2},{"s":"IMUSIC","x":35,"y":-2.5},{"s":"IMUSIC","x":36,"y":-2.8},{"s":"IMUSIC","x":37,"y":-3},{"s":"IMUSIC","x":38.5,"y":-5.5},{"s":"IMUSIC","x":40,"y":-9},{"s":"IMUSIC","x":42,"y":-14},{"s":"IMUSIC","x":44,"y":-19},{"s":"IMUSIC","x":46,"y":-22.5},{"s":"IMUSIC","x":48,"y":-25},{"s":"IMUSIC","x":51,"y":-27.3},{"s":"IMUSIC","x":55,"y":-28.7},{"s":"IMUSIC","x":60,"y":-29.5},{"s":"IMUSIC","x":70,"y":-30},{"s":"IMUSIC","x":80,"y":-30.2},{"s":"IMUSIC","x":90,"y":-30.3},
{"s":"TOFS","x":-90,"y":-30.8},{"s":"TOFS","x":-70,"y":-30.8},{"s":"TOFS","x":-60,"y":-30.8},{"s":"TOFS","x":-50,"y":-30.6},{"s":"TOFS","x":-45,"y":-30.5},{"s":"TOFS","x":-40,"y":-30.3},{"s":"TOFS","x":-36,"y":-29.6},{"s":"TOFS","x":-33,"y":-28.6},{"s":"TOFS","x":-30,"y":-27},{"s":"TOFS","x":-28,"y":-25},{"s":"TOFS","x":-26,"y":-22},{"s":"TOFS","x":-24,"y":-17},{"s":"TOFS","x":-22.5,"y":-12},{"s":"TOFS","x":-21,"y":-6.5},{"s":"TOFS","x":-20,"y":-3},{"s":"TOFS","x":-19,"y":-6},{"s":"TOFS","x":-18,"y":-10.5},{"s":"TOFS","x":-17,"y":-13.5},{"s":"TOFS","x":-16,"y":-15.5},{"s":"TOFS","x":-15,"y":-16.5},{"s":"TOFS","x":-14,"y":-16},{"s":"TOFS","x":-13,"y":-13.5},{"s":"TOFS","x":-12,"y":-9},{"s":"TOFS","x":-11,"y":-5},{"s":"TOFS","x":-10,"y":-1.5},{"s":"TOFS","x":-9,"y":-5},{"s":"TOFS","x":-8,"y":-10},{"s":"TOFS","x":-7,"y":-14},{"s":"TOFS","x":-6,"y":-17.5},{"s":"TOFS","x":-4,"y":-22},{"s":"TOFS","x":-2,"y":-24.8},{"s":"TOFS","x":0,"y":-25.9},{"s":"TOFS","x":2,"y":-25.2},{"s":"TOFS","x":3.5,"y":-22.5},{"s":"TOFS","x":5,"y":-17.5},{"s":"TOFS","x":6,"y":-12.5},{"s":"TOFS","x":7,"y":-6.5},{"s":"TOFS","x":7.5,"y":-3},{"s":"TOFS","x":8,"y":0},{"s":"TOFS","x":8.5,"y":-3},{"s":"TOFS","x":9.3,"y":-8.5},{"s":"TOFS","x":10.5,"y":-14.5},{"s":"TOFS","x":12,"y":-20},{"s":"TOFS","x":14,"y":-24},{"s":"TOFS","x":16,"y":-26.7},{"s":"TOFS","x":18,"y":-27.7},{"s":"TOFS","x":20,"y":-27.4},{"s":"TOFS","x":22,"y":-26},{"s":"TOFS","x":24,"y":-23.5},{"s":"TOFS","x":26,"y":-20},{"s":"TOFS","x":28,"y":-15.5},{"s":"TOFS","x":30,"y":-10.3},{"s":"TOFS","x":31.5,"y":-6},{"s":"TOFS","x":33,"y":-1.3},{"s":"TOFS","x":34,"y":-1.7},{"s":"TOFS","x":35,"y":-2.2},{"s":"TOFS","x":36,"y":-2.6},{"s":"TOFS","x":37,"y":-3},{"s":"TOFS","x":38.5,"y":-6},{"s":"TOFS","x":40,"y":-10},{"s":"TOFS","x":42,"y":-15},{"s":"TOFS","x":44,"y":-20},{"s":"TOFS","x":46,"y":-23.5},{"s":"TOFS","x":48,"y":-26},{"s":"TOFS","x":51,"y":-28},{"s":"TOFS","x":55,"y":-29.2},{"s":"TOFS","x":60,"y":-29.8},{"s":"TOFS","x":70,"y":-30.1},{"s":"TOFS","x":80,"y":-30.3},{"s":"TOFS","x":90,"y":-30.3},
{"s":"TOPS","x":-90,"y":-8.3},{"s":"TOPS","x":-85,"y":-8.1},{"s":"TOPS","x":-80,"y":-7.8},{"s":"TOPS","x":-75,"y":-7.4},{"s":"TOPS","x":-70,"y":-7.1},{"s":"TOPS","x":-65,"y":-7.2},{"s":"TOPS","x":-60,"y":-7.5},{"s":"TOPS","x":-57,"y":-7.9},{"s":"TOPS","x":-54,"y":-8.1},{"s":"TOPS","x":-51,"y":-7.2},{"s":"TOPS","x":-48,"y":-5.6},{"s":"TOPS","x":-46.5,"y":-5},{"s":"TOPS","x":-45,"y":-5.3},{"s":"TOPS","x":-42,"y":-6.5},{"s":"TOPS","x":-39,"y":-7.8},{"s":"TOPS","x":-37.5,"y":-8.2},{"s":"TOPS","x":-36,"y":-6.5},{"s":"TOPS","x":-34.5,"y":-4},{"s":"TOPS","x":-33,"y":-3.3},{"s":"TOPS","x":-31,"y":-3.6},{"s":"TOPS","x":-28,"y":-4.2},{"s":"TOPS","x":-25,"y":-4.5},{"s":"TOPS","x":-23,"y":-4.4},{"s":"TOPS","x":-21.5,"y":-3.3},{"s":"TOPS","x":-20,"y":-1.8},{"s":"TOPS","x":-19,"y":-3.2},{"s":"TOPS","x":-17.5,"y":-4.8},{"s":"TOPS","x":-15,"y":-5.7},{"s":"TOPS","x":-13,"y":-6},{"s":"TOPS","x":-11.5,"y":-4.3},{"s":"TOPS","x":-10,"y":-1.5},{"s":"TOPS","x":-9,"y":-3.3},{"s":"TOPS","x":-7,"y":-5.3},{"s":"TOPS","x":-5,"y":-5.8},{"s":"TOPS","x":-3,"y":-4.8},{"s":"TOPS","x":-1.5,"y":-3.5},{"s":"TOPS","x":0,"y":-3},{"s":"TOPS","x":1.5,"y":-3.8},{"s":"TOPS","x":3,"y":-4.7},{"s":"TOPS","x":5,"y":-4},{"s":"TOPS","x":6.5,"y":-2.5},{"s":"TOPS","x":8,"y":0},{"s":"TOPS","x":9,"y":-3},{"s":"TOPS","x":10.5,"y":-5.5},{"s":"TOPS","x":12,"y":-7},{"s":"TOPS","x":14,"y":-7.7},{"s":"TOPS","x":16,"y":-7},{"s":"TOPS","x":18,"y":-5.5},{"s":"TOPS","x":20,"y":-4.7},{"s":"TOPS","x":22,"y":-5.4},{"s":"TOPS","x":24,"y":-6.1},{"s":"TOPS","x":26,"y":-6.3},{"s":"TOPS","x":28,"y":-5.8},{"s":"TOPS","x":30,"y":-4.5},{"s":"TOPS","x":31.5,"y":-3},{"s":"TOPS","x":33,"y":-1.3},{"s":"TOPS","x":34,"y":-1.2},{"s":"TOPS","x":35,"y":-0.7},{"s":"TOPS","x":36,"y":0},{"s":"TOPS","x":37,"y":-1},{"s":"TOPS","x":38,"y":-3},{"s":"TOPS","x":39.5,"y":-5.5},{"s":"TOPS","x":41,"y":-7.3},{"s":"TOPS","x":42,"y":-7.8},{"s":"TOPS","x":44,"y":-7.6},{"s":"TOPS","x":47,"y":-6.8},{"s":"TOPS","x":50,"y":-6.1},{"s":"TOPS","x":53,"y":-5.7},{"s":"TOPS","x":55,"y":-5.6},{"s":"TOPS","x":57,"y":-5.9},{"s":"TOPS","x":60,"y":-7},{"s":"TOPS","x":63,"y":-8.8},{"s":"TOPS","x":66,"y":-10.2},{"s":"TOPS","x":68,"y":-10.1},{"s":"TOPS","x":72,"y":-9.6},{"s":"TOPS","x":76,"y":-9.2},{"s":"TOPS","x":80,"y":-8.8},{"s":"TOPS","x":85,"y":-8.5},{"s":"TOPS","x":90,"y":-8.3},
{"s":"Squared TOPS","x":-90,"y":-13.5},{"s":"Squared TOPS","x":-80,"y":-13.3},{"s":"Squared TOPS","x":-70,"y":-13.1},{"s":"Squared TOPS","x":-60,"y":-13},{"s":"Squared TOPS","x":-57,"y":-12.7},{"s":"Squared TOPS","x":-54,"y":-12.2},{"s":"Squared TOPS","x":-51,"y":-11.5},{"s":"Squared TOPS","x":-48,"y":-11},{"s":"Squared TOPS","x":-47,"y":-10.9},{"s":"Squared TOPS","x":-45,"y":-11.1},{"s":"Squared TOPS","x":-42,"y":-11.8},{"s":"Squared TOPS","x":-40,"y":-12.5},{"s":"Squared TOPS","x":-38,"y":-11.9},{"s":"Squared TOPS","x":-36,"y":-10.3},{"s":"Squared TOPS","x":-34.5,"y":-8.5},{"s":"Squared TOPS","x":-33.5,"y":-8},{"s":"Squared TOPS","x":-32,"y":-8.6},{"s":"Squared TOPS","x":-30,"y":-9.6},{"s":"Squared TOPS","x":-28,"y":-10.2},{"s":"Squared TOPS","x":-26,"y":-10.1},{"s":"Squared TOPS","x":-24,"y":-9.6},{"s":"Squared TOPS","x":-22,"y":-8.3},{"s":"Squared TOPS","x":-21,"y":-5.5},{"s":"Squared TOPS","x":-20,"y":-2.3},{"s":"Squared TOPS","x":-19,"y":-5.5},{"s":"Squared TOPS","x":-17.5,"y":-8.5},{"s":"Squared TOPS","x":-15.5,"y":-9.4},{"s":"Squared TOPS","x":-14,"y":-9.4},{"s":"Squared TOPS","x":-12.5,"y":-8},{"s":"Squared TOPS","x":-11,"y":-4.5},{"s":"Squared TOPS","x":-10,"y":-1.5},{"s":"Squared TOPS","x":-9,"y":-5},{"s":"Squared TOPS","x":-7.5,"y":-8.5},{"s":"Squared TOPS","x":-6,"y":-9.8},{"s":"Squared TOPS","x":-4,"y":-10.3},{"s":"Squared TOPS","x":-2,"y":-9.3},{"s":"Squared TOPS","x":-0.5,"y":-7.5},{"s":"Squared TOPS","x":0,"y":-7.2},{"s":"Squared TOPS","x":1,"y":-8},{"s":"Squared TOPS","x":2.5,"y":-9.8},{"s":"Squared TOPS","x":4,"y":-11},{"s":"Squared TOPS","x":5,"y":-11.3},{"s":"Squared TOPS","x":6,"y":-10.5},{"s":"Squared TOPS","x":7,"y":-6},{"s":"Squared TOPS","x":8,"y":0},{"s":"Squared TOPS","x":9,"y":-5.5},{"s":"Squared TOPS","x":10.5,"y":-11},{"s":"Squared TOPS","x":12,"y":-13.5},{"s":"Squared TOPS","x":13.5,"y":-13},{"s":"Squared TOPS","x":15,"y":-12},{"s":"Squared TOPS","x":17,"y":-10.8},{"s":"Squared TOPS","x":18.5,"y":-9.5},{"s":"Squared TOPS","x":19.5,"y":-8},{"s":"Squared TOPS","x":20.5,"y":-8.8},{"s":"Squared TOPS","x":22,"y":-10.2},{"s":"Squared TOPS","x":24,"y":-11},{"s":"Squared TOPS","x":26,"y":-11.1},{"s":"Squared TOPS","x":28,"y":-10.5},{"s":"Squared TOPS","x":30,"y":-7.5},{"s":"Squared TOPS","x":31.5,"y":-4.5},{"s":"Squared TOPS","x":33,"y":-1.3},{"s":"Squared TOPS","x":34,"y":-2},{"s":"Squared TOPS","x":35,"y":-3},{"s":"Squared TOPS","x":36,"y":-2.5},{"s":"Squared TOPS","x":37,"y":-2.2},{"s":"Squared TOPS","x":38,"y":-4.5},{"s":"Squared TOPS","x":39.5,"y":-8.5},{"s":"Squared TOPS","x":41,"y":-12},{"s":"Squared TOPS","x":42.5,"y":-13.2},{"s":"Squared TOPS","x":45,"y":-13.1},{"s":"Squared TOPS","x":48,"y":-12.5},{"s":"Squared TOPS","x":51,"y":-11.8},{"s":"Squared TOPS","x":55,"y":-11.4},{"s":"Squared TOPS","x":58,"y":-11.8},{"s":"Squared TOPS","x":61,"y":-12.8},{"s":"Squared TOPS","x":64,"y":-14},{"s":"Squared TOPS","x":67,"y":-14.8},{"s":"Squared TOPS","x":70,"y":-14.7},{"s":"Squared TOPS","x":75,"y":-14.4},{"s":"Squared TOPS","x":80,"y":-14.1},{"s":"Squared TOPS","x":90,"y":-13.9},
{"s":"WS-TOPS","x":-90,"y":-25.2},{"s":"WS-TOPS","x":-75,"y":-25.2},{"s":"WS-TOPS","x":-60,"y":-25.2},{"s":"WS-TOPS","x":-50,"y":-25},{"s":"WS-TOPS","x":-45,"y":-24.8},{"s":"WS-TOPS","x":-40,"y":-24.5},{"s":"WS-TOPS","x":-37,"y":-23.8},{"s":"WS-TOPS","x":-34,"y":-22.5},{"s":"WS-TOPS","x":-31,"y":-20.5},{"s":"WS-TOPS","x":-28.5,"y":-17.5},{"s":"WS-TOPS","x":-26.5,"y":-14},{"s":"WS-TOPS","x":-24.5,"y":-10.5},{"s":"WS-TOPS","x":-22.5,"y":-7},{"s":"WS-TOPS","x":-21,"y":-4},{"s":"WS-TOPS","x":-20,"y":-2.5},{"s":"WS-TOPS","x":-19,"y":-4.5},{"s":"WS-TOPS","x":-18,"y":-7.5},{"s":"WS-TOPS","x":-17,"y":-9.8},{"s":"WS-TOPS","x":-15.5,"y":-11},{"s":"WS-TOPS","x":-14,"y":-10.8},{"s":"WS-TOPS","x":-12.5,"y":-8.5},{"s":"WS-TOPS","x":-11,"y":-4.5},{"s":"WS-TOPS","x":-10,"y":-2},{"s":"WS-TOPS","x":-9,"y":-4},{"s":"WS-TOPS","x":-8,"y":-7.5},{"s":"WS-TOPS","x":-6.5,"y":-11.5},{"s":"WS-TOPS","x":-5,"y":-14.5},{"s":"WS-TOPS","x":-3,"y":-17.2},{"s":"WS-TOPS","x":-1,"y":-18.7},{"s":"WS-TOPS","x":0,"y":-19},{"s":"WS-TOPS","x":1.5,"y":-18.5},{"s":"WS-TOPS","x":3,"y":-17},{"s":"WS-TOPS","x":4.5,"y":-14},{"s":"WS-TOPS","x":6,"y":-9.5},{"s":"WS-TOPS","x":7,"y":-5},{"s":"WS-TOPS","x":8,"y":0},{"s":"WS-TOPS","x":9,"y":-5},{"s":"WS-TOPS","x":10,"y":-9},{"s":"WS-TOPS","x":11.5,"y":-13},{"s":"WS-TOPS","x":13,"y":-16},{"s":"WS-TOPS","x":15,"y":-19},{"s":"WS-TOPS","x":17,"y":-20.8},{"s":"WS-TOPS","x":18,"y":-21.3},{"s":"WS-TOPS","x":20,"y":-21},{"s":"WS-TOPS","x":22,"y":-20},{"s":"WS-TOPS","x":24,"y":-18},{"s":"WS-TOPS","x":26,"y":-15.2},{"s":"WS-TOPS","x":28,"y":-12},{"s":"WS-TOPS","x":30,"y":-8.5},{"s":"WS-TOPS","x":31.5,"y":-5},{"s":"WS-TOPS","x":33,"y":-1.6},{"s":"WS-TOPS","x":34,"y":-2.5},{"s":"WS-TOPS","x":35,"y":-3.5},{"s":"WS-TOPS","x":36,"y":-3.3},{"s":"WS-TOPS","x":37,"y":-2.5},{"s":"WS-TOPS","x":38.5,"y":-5},{"s":"WS-TOPS","x":40,"y":-8.5},{"s":"WS-TOPS","x":42,"y":-13},{"s":"WS-TOPS","x":44,"y":-16.5},{"s":"WS-TOPS","x":46,"y":-19.5},{"s":"WS-TOPS","x":48,"y":-21.5},{"s":"WS-TOPS","x":51,"y":-23.3},{"s":"WS-TOPS","x":55,"y":-24.2},{"s":"WS-TOPS","x":60,"y":-24.6},{"s":"WS-TOPS","x":70,"y":-24.8},{"s":"WS-TOPS","x":90,"y":-24.8}
 ]
},
"columns": 2,
"spacing": {"row": 8, "column": 20},
"resolve": {"scale": {"color": "independent", "strokeDash": "independent"}, "legend": {"color": "independent", "strokeDash": "independent"}},
"concat": [
 {"width": 337, "height": 285, "title": {"text": "(a)", "orient": "bottom", "offset": 4},
  "layer": [
   {"data": {"name": "a"}, "mark": {"type": "line", "strokeWidth": 1.1, "interpolate": "monotone", "clip": true},
    "encoding": {
     "x": {"field": "x", "type": "quantitative", "scale": {"domain": [-90, 90], "nice": false}, "axis": {"values": [-90, -60, -30, 0, 30, 60, 90], "title": "Angle (degree)"}},
     "y": {"field": "y", "type": "quantitative", "scale": {"domain": [-40, 0], "nice": false}, "axis": {"values": [-40, -35, -30, -25, -20, -15, -10, -5, 0], "title": "Normalized inverse of the smallest singular value (dB)"}},
     "color": {"field": "s", "type": "nominal", "scale": {"domain": ["IMUSIC", "TOFS", "TOPS", "Squared TOPS", "WS-TOPS"], "range": ["#000000", "#000000", "#0000ff", "#0000ff", "#ff0000"]}, "legend": {"orient": "top-left", "offset": 10, "title": null}},
     "strokeDash": {"field": "s", "type": "nominal", "scale": {"domain": ["IMUSIC", "TOFS", "TOPS", "Squared TOPS", "WS-TOPS"], "range": [[6, 4], [1, 0], [6, 4], [1, 0], [1, 0]]}, "legend": {"orient": "top-left", "offset": 10, "title": null}}
    }},
   {"data": {"name": "v3"}, "mark": {"type": "rule", "strokeDash": [1, 2], "color": "#222", "strokeWidth": 1},
    "encoding": {"x": {"field": "v", "type": "quantitative", "title": "Angle (degree)"}}}
  ]},
 {"width": 337, "height": 285, "title": {"text": "(b)", "orient": "bottom", "offset": 4},
  "layer": [
   {"data": {"name": "b"}, "mark": {"type": "line", "strokeWidth": 1.1, "interpolate": "monotone", "clip": true},
    "encoding": {
     "x": {"field": "x", "type": "quantitative", "scale": {"domain": [-90, 90], "nice": false}, "axis": {"values": [-90, -60, -30, 0, 30, 60, 90], "title": "Angle (degree)"}},
     "y": {"field": "y", "type": "quantitative", "scale": {"domain": [-40, 0], "nice": false}, "axis": {"values": [-40, -35, -30, -25, -20, -15, -10, -5, 0], "title": "Normalized inverse of the smallest singular value (dB)"}},
     "color": {"field": "s", "type": "nominal", "scale": {"domain": ["IMUSIC", "TOFS", "TOPS", "Squared TOPS", "WS-TOPS"], "range": ["#000000", "#000000", "#0000ff", "#0000ff", "#ff0000"]}, "legend": {"orient": "top-left", "offset": 10, "title": null}},
     "strokeDash": {"field": "s", "type": "nominal", "scale": {"domain": ["IMUSIC", "TOFS", "TOPS", "Squared TOPS", "WS-TOPS"], "range": [[6, 4], [1, 0], [6, 4], [1, 0], [1, 0]]}, "legend": {"orient": "top-left", "offset": 10, "title": null}}
    }},
   {"data": {"name": "v3"}, "mark": {"type": "rule", "strokeDash": [1, 2], "color": "#222", "strokeWidth": 1},
    "encoding": {"x": {"field": "v", "type": "quantitative", "title": "Angle (degree)"}}}
  ]},
 {"width": 337, "height": 285, "title": {"text": "(c)", "orient": "bottom", "offset": 4},
  "layer": [
   {"data": {"name": "c"}, "mark": {"type": "line", "strokeWidth": 1.1, "interpolate": "monotone", "clip": true},
    "encoding": {
     "x": {"field": "x", "type": "quantitative", "scale": {"domain": [-90, 90], "nice": false}, "axis": {"values": [-90, -60, -30, 0, 30, 60, 90], "title": "Angle (degree)"}},
     "y": {"field": "y", "type": "quantitative", "scale": {"domain": [-40, 0], "nice": false}, "axis": {"values": [-40, -35, -30, -25, -20, -15, -10, -5, 0], "title": "Normalized inverse of the smallest singular value (dB)"}},
     "color": {"field": "s", "type": "nominal", "scale": {"domain": ["IMUSIC", "TOFS", "TOPS", "Squared TOPS", "WS-TOPS"], "range": ["#000000", "#000000", "#0000ff", "#0000ff", "#ff0000"]}, "legend": {"orient": "bottom-right", "offset": 6, "title": null}},
     "strokeDash": {"field": "s", "type": "nominal", "scale": {"domain": ["IMUSIC", "TOFS", "TOPS", "Squared TOPS", "WS-TOPS"], "range": [[6, 4], [1, 0], [6, 4], [1, 0], [1, 0]]}, "legend": {"orient": "bottom-right", "offset": 6, "title": null}}
    }},
   {"data": {"name": "v3"}, "mark": {"type": "rule", "strokeDash": [1, 2], "color": "#222", "strokeWidth": 1},
    "encoding": {"x": {"field": "v", "type": "quantitative", "title": "Angle (degree)"}}}
  ]},
 {"width": 337, "height": 285, "title": {"text": "(d)", "orient": "bottom", "offset": 4},
  "layer": [
   {"data": {"name": "d"}, "mark": {"type": "line", "strokeWidth": 1.1, "interpolate": "monotone", "clip": true},
    "encoding": {
     "x": {"field": "x", "type": "quantitative", "scale": {"domain": [-90, 90], "nice": false}, "axis": {"values": [-90, -60, -30, 0, 30, 60, 90], "title": "Angle (degree)"}},
     "y": {"field": "y", "type": "quantitative", "scale": {"domain": [-40, 0], "nice": false}, "axis": {"values": [-40, -35, -30, -25, -20, -15, -10, -5, 0], "title": "Normalized inverse of the smallest singular value (dB)"}},
     "color": {"field": "s", "type": "nominal", "scale": {"domain": ["IMUSIC", "TOFS", "TOPS", "Squared TOPS", "WS-TOPS"], "range": ["#000000", "#000000", "#0000ff", "#0000ff", "#ff0000"]}, "legend": {"orient": "bottom-right", "offset": 6, "title": null}},
     "strokeDash": {"field": "s", "type": "nominal", "scale": {"domain": ["IMUSIC", "TOFS", "TOPS", "Squared TOPS", "WS-TOPS"], "range": [[6, 4], [1, 0], [6, 4], [1, 0], [1, 0]]}, "legend": {"orient": "bottom-right", "offset": 6, "title": null}}
    }},
   {"data": {"name": "v5"}, "mark": {"type": "rule", "strokeDash": [1, 2], "color": "#222", "strokeWidth": 1},
    "encoding": {"x": {"field": "v", "type": "quantitative", "title": "Angle (degree)"}}}
  ]}
]
}
